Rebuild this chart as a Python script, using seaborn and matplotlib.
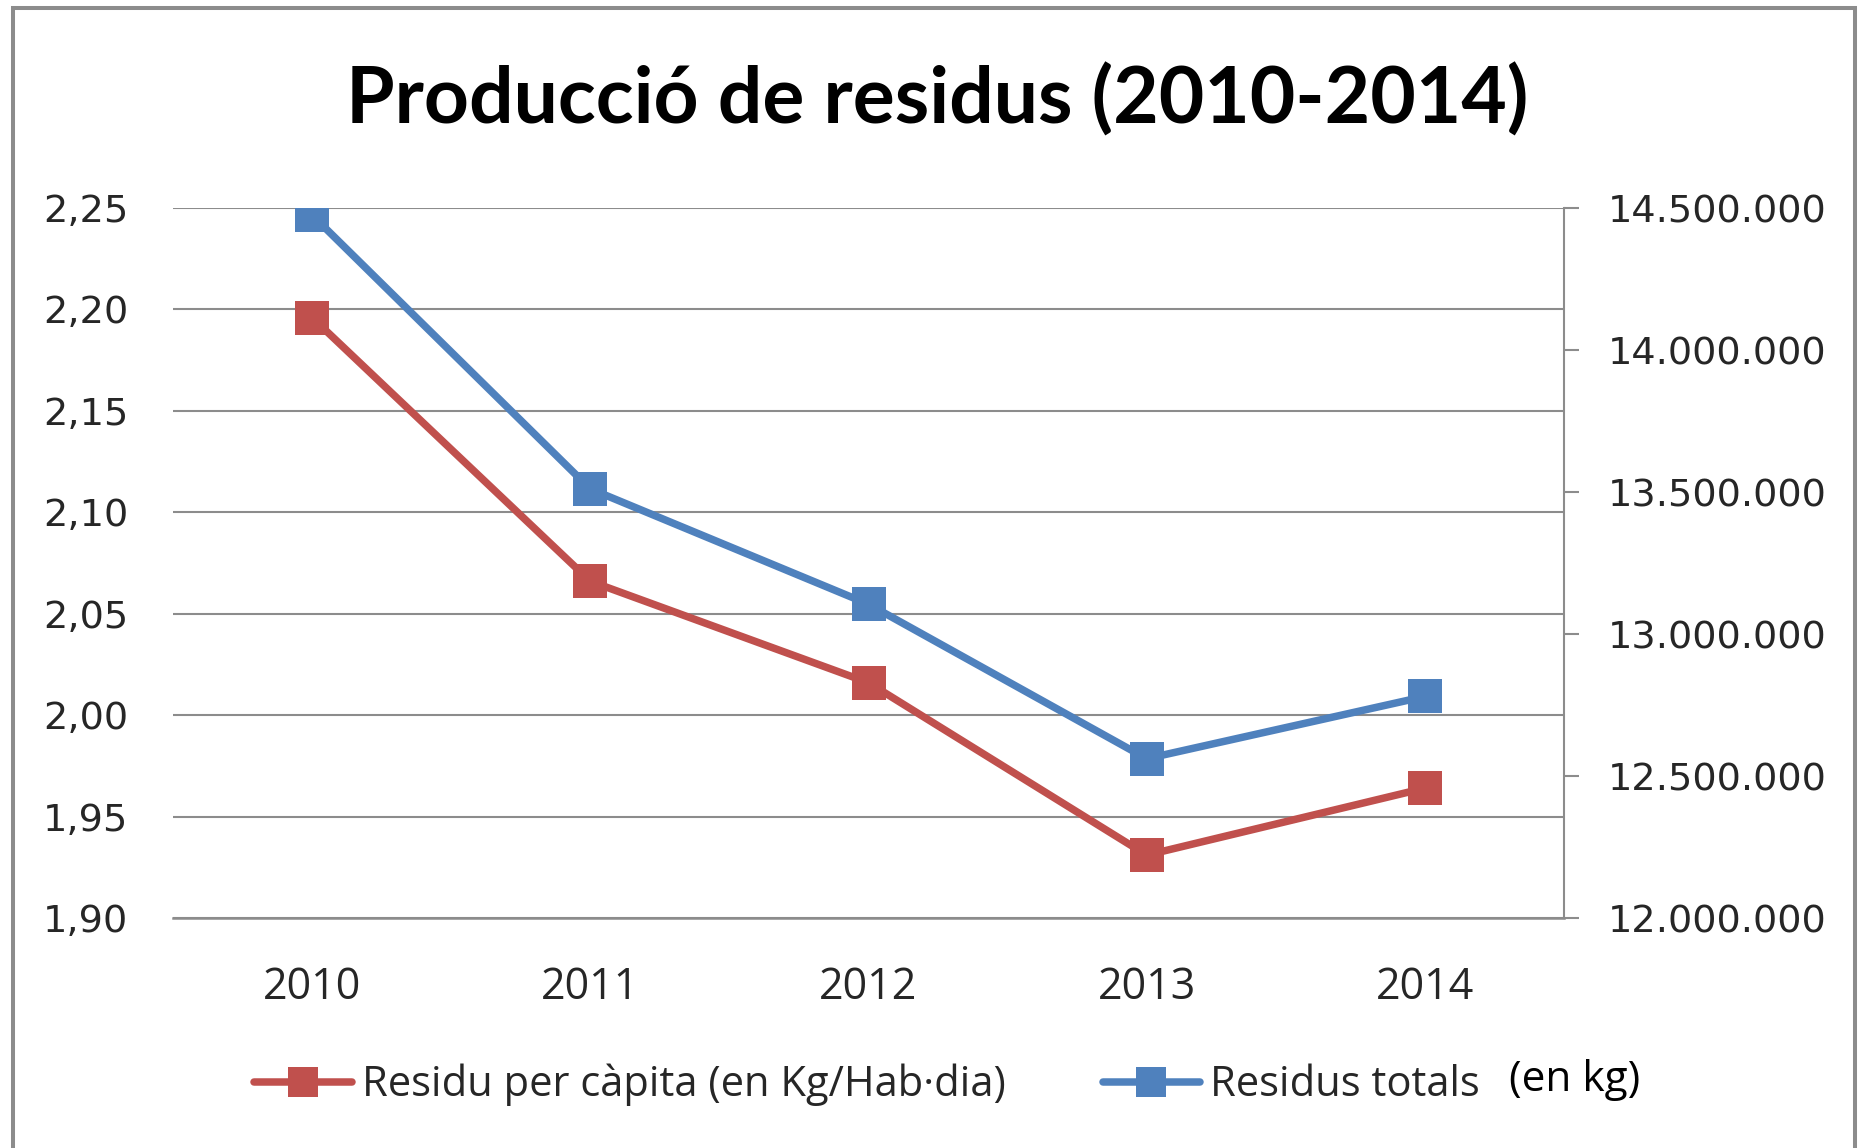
import matplotlib
matplotlib.use("Agg")
import matplotlib.pyplot as plt
import matplotlib.patches as mpatches
from matplotlib.lines import Line2D
from matplotlib.ticker import FuncFormatter, MultipleLocator
import seaborn as sns
import pandas as pd

# ---- data ----
years = ["2010", "2011", "2012", "2013", "2014"]
per_capita = [2.196, 2.066, 2.016, 1.931, 1.964]          # kg/hab·dia
totals = [14475000, 13511000, 13105000, 12561000, 12780000]  # kg
title = "Producció de residus (2010-2014)"
label_red = "Residu per càpita (en Kg/Hab·dia)"
label_blue = "Residus totals"
extra_note = "(en kg)"

RED = "#C0504D"
BLUE = "#4F81BD"
GRID = "#8C8C8C"

sns.set_theme(style="white")
plt.rcParams["font.family"] = ["DejaVu Sans"]

W, H, DPI = 1859, 1148, 100
fig = plt.figure(figsize=(W / DPI, H / DPI), dpi=DPI)
fig.patch.set_facecolor("white")

ax = fig.add_axes([173 / W, 1 - 918 / H, (1564 - 173) / W, (918 - 208) / H])
ax2 = ax.twinx()

df = pd.DataFrame({"year": years, "pc": per_capita, "tot": totals})

lw = 5.4
ms = 24
sns.lineplot(data=df, x="year", y="pc", ax=ax, color=RED, linewidth=lw,
             marker="s", markersize=ms, markeredgewidth=0, legend=False,
             zorder=3)
sns.lineplot(data=df, x="year", y="tot", ax=ax2, color=BLUE, linewidth=lw,
             marker="s", markersize=ms, markeredgewidth=0, legend=False,
             zorder=3)

ax.set_xlim(-0.5, 4.5)
ax.set_ylim(1.90, 2.25)
ax.yaxis.set_major_locator(MultipleLocator(0.05))
ax.yaxis.set_major_formatter(FuncFormatter(lambda v, p: f"{v:.2f}".replace(".", ",")))
ax2.set_ylim(12000000, 14500000)
ax2.yaxis.set_major_locator(MultipleLocator(500000))
ax2.yaxis.set_major_formatter(FuncFormatter(lambda v, p: f"{int(round(v)):,}".replace(",", ".")))

ax.set_xlabel("")
ax.set_ylabel("")
ax2.set_xlabel("")
ax2.set_ylabel("")

ax.grid(axis="y", color=GRID, linewidth=1.5)
ax.grid(axis="x", visible=False)
ax2.grid(False)
ax.set_axisbelow(True)

for s in ["top", "left", "right"]:
    ax.spines[s].set_visible(False)
ax.spines["bottom"].set_color(GRID)
ax.spines["bottom"].set_linewidth(1.8)
for s in ["top", "left", "bottom"]:
    ax2.spines[s].set_visible(False)
ax2.spines["right"].set_color(GRID)
ax2.spines["right"].set_linewidth(1.5)

tick_font = 27.5
ax.tick_params(axis="y", length=0, pad=32, labelsize=tick_font, labelcolor="#262626")
ax.tick_params(axis="x", length=0, pad=34, labelsize=tick_font, labelcolor="#262626")
for lab in ax.get_xticklabels():
    lab.set_fontfamily("Open Sans")
    lab.set_fontsize(31)
ax2.tick_params(axis="y", direction="out", length=10.8, width=1.5, color=GRID,
                pad=21, labelsize=tick_font, labelcolor="#262626")

# title
fig.text(937 / W, 1 - 100 / H, title, ha="center", va="center",
         fontsize=56.5, fontweight="bold", family="Lato", color="black")

# legend
handles = [
    Line2D([0], [0], color=RED, lw=lw, marker="s", markersize=ms * 0.9, markeredgewidth=0),
    Line2D([0], [0], color=BLUE, lw=lw, marker="s", markersize=ms * 0.9, markeredgewidth=0),
]
leg = fig.legend(handles, [label_red, label_blue], loc="center",
                 bbox_to_anchor=(867 / W, 1 - 1085 / H), ncol=2, frameon=False,
                 prop={"family": "Open Sans", "size": 30},
                 handlelength=2.35, handletextpad=0.23, columnspacing=2.33,
                 labelcolor="#262626")
fig.text(1509 / W, 1 - 1080 / H, extra_note, ha="left", va="center",
         fontsize=30.5, family="Open Sans", color="black")

# outer border
border = mpatches.Rectangle((13 / W, -0.05), (1855 - 13) / W, 1.05 - 8 / H,
                            transform=fig.transFigure, fill=False,
                            edgecolor=GRID, linewidth=2.9, clip_on=False)
fig.patches.append(border)

fig.savefig("out.png", dpi=DPI)
